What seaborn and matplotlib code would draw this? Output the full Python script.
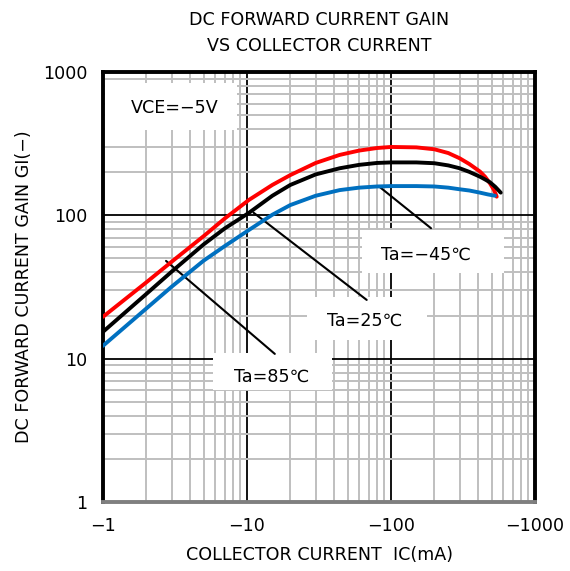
import numpy as np
import pandas as pd
import matplotlib
matplotlib.use("Agg")
import matplotlib.pyplot as plt
from matplotlib.ticker import LogLocator, FixedLocator, NullFormatter
from matplotlib.patches import Rectangle
import seaborn as sns

# ── data (|IC| in mA, hFE) ──────────────────────────────────────────────────
ic_85 = [1, 2, 3, 5, 7, 10.3, 15, 20, 30, 44, 60, 80, 100, 150, 200, 250,
         300, 350, 415, 450, 487, 520, 542]
hfe_85 = [19.6, 34.1, 47.5, 71.6, 95, 128, 163, 191, 232, 264, 283, 295, 300,
          298, 289, 272, 250, 228, 202, 186, 167, 150, 135]

ic_25 = [1, 2, 3, 5, 7, 10.3, 15, 20, 30, 44, 60, 80, 100, 150, 200, 250,
         300, 350, 415, 450, 487, 530, 578]
hfe_25 = [15.4, 28.3, 40.5, 62.7, 81, 104, 137, 163, 193, 213, 225, 232, 234,
          234, 231, 223, 213, 201, 186, 178, 170, 158, 144]

ic_m45 = [1, 2, 3, 5, 7, 10.3, 15, 20, 30, 44, 60, 80, 100, 150, 200, 250,
          300, 350, 415, 470, 527]
hfe_m45 = [12.3, 22.4, 31.8, 48.3, 61, 79, 101, 118, 137, 150, 156, 159, 160,
           160, 159, 156, 152, 149, 144, 140, 137]

temps = ["Ta=85℃", "Ta=25℃", "Ta=−45℃"]
colors = ["#ff0000", "#000000", "#0070c0"]

x_ticks = [1, 10, 100, 1000]
x_ticklabels = ["−1", "−10", "−100", "−1000"]
y_ticks = [1, 10, 100, 1000]
y_ticklabels = ["1", "10", "100", "1000"]

# leader lines: (start on curve, end at label box) in data units
leaders = {
    "Ta=85℃": [(2.74, 48.1), (15.6, 10.8)],
    "Ta=25℃": [(11.1, 104.4), (67.8, 25.7)],
    "Ta=−45℃": [(83.9, 157), (189.6, 81.3)],
}
# label boxes in axes fraction: (x0, y0, w, h), text centre
boxes = {
    "VCE=−5V": ((0.005, 0.865, 0.305, 0.109), (0.167, 0.916)),
    "Ta=85℃": ((0.255, 0.260, 0.274, 0.087), (0.390, 0.291)),
    "Ta=25℃": ((0.4715, 0.377, 0.2775, 0.100), (0.6065, 0.4216)),
    "Ta=−45℃": ((0.600, 0.533, 0.328, 0.100), (0.748, 0.574)),
}

df = pd.concat([
    pd.DataFrame({"ic": ic_85, "hfe": hfe_85, "temp": temps[0]}),
    pd.DataFrame({"ic": ic_25, "hfe": hfe_25, "temp": temps[1]}),
    pd.DataFrame({"ic": ic_m45, "hfe": hfe_m45, "temp": temps[2]}),
])

sns.set_style("white")
plt.rcParams["font.family"] = ["DejaVu Sans", "Noto Sans CJK JP"]
plt.rcParams["font.size"] = 12.6
for k in ["text.color", "axes.labelcolor", "xtick.color", "ytick.color"]:
    plt.rcParams[k] = "black"

fig = plt.figure(figsize=(5.70, 5.71), dpi=100)
ax = fig.add_axes([0.1807, 0.1208, 0.7579, 0.7531])

ax.set_xscale("log")
ax.set_yscale("log")
ax.set_xlim(1, 1000)
ax.set_ylim(1, 1000)

# grid: grey minor, black major
ax.xaxis.set_major_locator(FixedLocator(x_ticks))
ax.yaxis.set_major_locator(FixedLocator(y_ticks))
ax.xaxis.set_minor_locator(LogLocator(base=10, subs=np.arange(2, 10)))
ax.yaxis.set_minor_locator(LogLocator(base=10, subs=np.arange(2, 10)))
ax.xaxis.set_minor_formatter(NullFormatter())
ax.yaxis.set_minor_formatter(NullFormatter())
ax.grid(True, which="minor", color="#bfbfbf", lw=1.4, zorder=0)
ax.grid(True, which="major", color="#000000", lw=1.3, zorder=0)
ax.set_axisbelow(True)

for label, (rect, (tx, ty)) in boxes.items():
    x0, y0, w, h = rect
    ax.add_patch(Rectangle((x0, y0), w, h, transform=ax.transAxes,
                           facecolor="white", edgecolor="none", zorder=1.5))
    ax.text(tx, ty, label, transform=ax.transAxes, ha="center", va="center",
            zorder=3)

sns.lineplot(data=df, x="ic", y="hfe", hue="temp", hue_order=temps,
             palette=colors, lw=2.8, legend=False, ax=ax, zorder=4)

for label, ((x0, y0), (x1, y1)) in leaders.items():
    ax.plot([x0, x1], [y0, y1], color="black", lw=1.5, zorder=3)

ax.set_xticks(x_ticks)
ax.set_xticklabels(x_ticklabels)
ax.set_yticks(y_ticks)
ax.set_yticklabels(y_ticklabels)
ax.tick_params(which="both", length=0, labelsize=12.6)
ax.tick_params(axis="x", pad=11)
ax.tick_params(axis="y", pad=11)

for side in ["left", "right", "top"]:
    ax.spines[side].set_color("black")
    ax.spines[side].set_linewidth(2.8)
ax.spines["bottom"].set_color("#7f7f7f")
ax.spines["bottom"].set_linewidth(2.8)

ax.set_xlabel("COLLECTOR CURRENT  IC(mA)", labelpad=8)
ax.set_ylabel("DC FORWARD CURRENT GAIN GI(−)", labelpad=7)
ax.set_title("DC FORWARD CURRENT GAIN\nVS COLLECTOR CURRENT", fontsize=12.6,
             pad=15, linespacing=1.6)

fig.savefig("out.png", dpi=100, facecolor="white")
